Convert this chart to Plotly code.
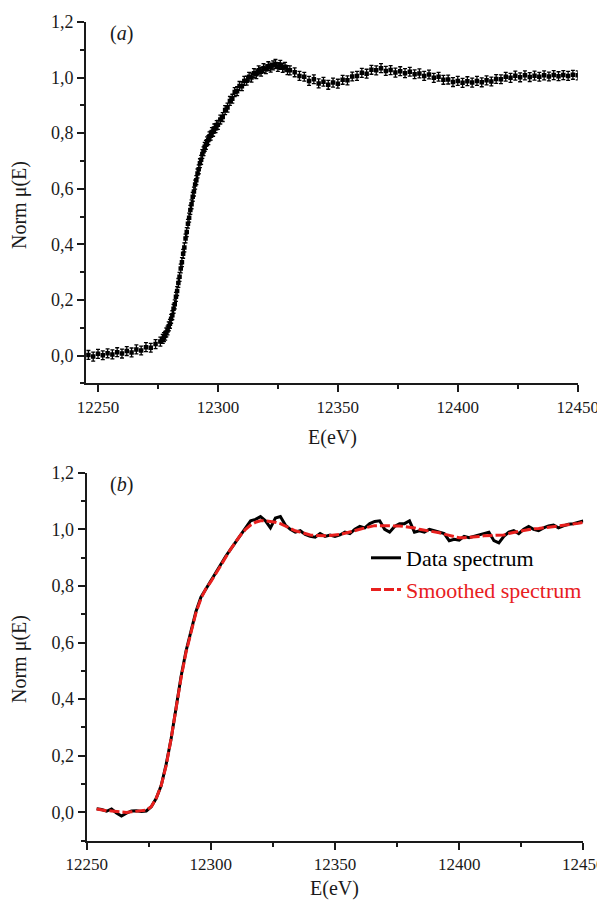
import plotly.graph_objects as go

# ---------------- data: panel (a) ----------------
E_A_PRE = list(range(12246, 12277, 2))                 # 16 points
E_A_EDGE = [12277 + 0.5 * i for i in range(46)]        # 46 points
E_A_POST = list(range(12300, 12331))                   # 31 points
E_A_TAIL = list(range(12332, 12451, 2))                # 60 points
E_A = E_A_PRE + E_A_EDGE + E_A_POST + E_A_TAIL

MU_A_PRE = [0.002, -0.004, 0.006, 0.001, 0.008, 0.004, 0.012, 0.007, 0.016, 0.011,
            0.022, 0.018, 0.030, 0.028, 0.041, 0.050]
MU_A_EDGE = [0.060, 0.066, 0.071, 0.083, 0.090, 0.105, 0.114, 0.132, 0.145, 0.168,
             0.184, 0.211, 0.232, 0.261, 0.283, 0.313, 0.336, 0.366, 0.389, 0.421,
             0.444, 0.474, 0.496, 0.524, 0.544, 0.571, 0.590, 0.615, 0.631, 0.655,
             0.670, 0.692, 0.704, 0.725, 0.735, 0.751, 0.758, 0.771, 0.775, 0.789,
             0.791, 0.804, 0.805, 0.817, 0.818, 0.829]
MU_A_POST = [0.830, 0.849, 0.858, 0.883, 0.892, 0.916, 0.924, 0.948, 0.951, 0.970,
             0.969, 0.988, 0.989, 1.003, 1.000, 1.016, 1.012, 1.026, 1.021, 1.034,
             1.030, 1.041, 1.036, 1.044, 1.049, 1.038, 1.046, 1.035, 1.039, 1.027,
             1.026]
MU_A_TAIL = [1.019, 1.006, 1.003, 0.988, 0.994, 0.979, 0.985, 0.974, 0.982, 0.978,
             0.992, 0.990, 1.004, 1.006, 1.017, 1.014, 1.028, 1.026, 1.034, 1.024,
             1.027, 1.018, 1.023, 1.016, 1.021, 1.012, 1.015, 1.006, 1.011, 0.999,
             1.003, 0.992, 0.993, 0.984, 0.988, 0.981, 0.987, 0.982, 0.988, 0.983,
             0.990, 0.986, 0.995, 0.994, 1.003, 0.999, 1.007, 1.001, 1.008, 1.002,
             1.007, 1.003, 1.008, 1.004, 1.009, 1.005, 1.009, 1.006, 1.010, 1.008]
MU_A = MU_A_PRE + MU_A_EDGE + MU_A_POST + MU_A_TAIL
ERR_A = 0.016

# ---------------- data: panel (b) ----------------
E_B = list(range(12254, 12451, 2))
MU_B = [
    0.013, 0.010, 0.004, 0.012, -0.002, -0.013, -0.003, 0.005, 0.006, 0.003,
    0.005, 0.020, 0.050, 0.095, 0.170, 0.260, 0.370, 0.480, 0.570, 0.645,
    0.710, 0.760, 0.790, 0.815, 0.845, 0.880, 0.905, 0.930, 0.955, 0.980,
    1.005, 1.030, 1.035, 1.045, 1.030, 1.005, 1.040, 1.045, 1.015, 1.000,
    0.990, 0.995, 0.982, 0.975, 0.972, 0.985, 0.975, 0.980, 0.975, 0.980,
    0.990, 0.985, 1.000, 1.010, 1.005, 1.020, 1.028, 1.030, 1.000, 0.990,
    1.010, 1.020, 1.020, 1.030, 0.990, 0.995, 0.990, 1.000, 0.995, 0.990,
    0.985, 0.960, 0.965, 0.962, 0.975, 0.970, 0.975, 0.980, 0.985, 0.990,
    0.960, 0.952, 0.975, 0.990, 0.995, 0.985, 1.000, 1.010, 1.000, 0.995,
    1.005, 1.012, 1.015, 1.005, 1.012, 1.018, 1.020, 1.025, 1.030,
]
MU_B_SMOOTH = [
    0.012, 0.008, 0.006, 0.005, 0.003, 0.000, 0.000, 0.002, 0.004, 0.005,
    0.008, 0.020, 0.050, 0.095, 0.165, 0.260, 0.370, 0.475, 0.565, 0.640,
    0.705, 0.755, 0.790, 0.815, 0.845, 0.875, 0.905, 0.930, 0.955, 0.980,
    1.000, 1.015, 1.025, 1.030, 1.030, 1.028, 1.025, 1.020, 1.012, 1.003,
    0.995, 0.990, 0.985, 0.980, 0.978, 0.977, 0.977, 0.978, 0.979, 0.982,
    0.986, 0.990, 0.995, 1.000, 1.005, 1.010, 1.013, 1.013, 1.012, 1.012,
    1.012, 1.012, 1.010, 1.008, 1.005, 1.000, 0.997, 0.995, 0.992, 0.988,
    0.983, 0.978, 0.973, 0.970, 0.970, 0.971, 0.973, 0.975, 0.977, 0.978,
    0.978, 0.978, 0.980, 0.985, 0.990, 0.993, 0.996, 1.000, 1.002, 1.003,
    1.005, 1.008, 1.010, 1.011, 1.013, 1.016, 1.018, 1.021, 1.025,
]

X_TICKS = [12250, 12300, 12350, 12400, 12450]
Y_TICKS = [0.0, 0.2, 0.4, 0.6, 0.8, 1.0, 1.2]

assert len(E_A) == len(MU_A), (len(E_A), len(MU_A))
assert len(E_B) == len(MU_B) == len(MU_B_SMOOTH), (len(E_B), len(MU_B), len(MU_B_SMOOTH))

FONT = "Liberation Serif"
INK = "#1a1a1a"
RED = "#e8201e"
OFF = 8                      # page body margin of the browser
W, H = 605 - OFF, 900 - OFF  # figure size that fits the window


def fx(px):
    return (px - OFF) / W


def fy(py):
    return 1 - (py - OFF) / H


fig = go.Figure()
fig.add_trace(go.Scatter(
    x=E_A, y=MU_A, mode="markers", xaxis="x", yaxis="y", showlegend=False,
    marker=dict(symbol="square", size=4.5, color="black"),
    error_y=dict(type="constant", value=ERR_A, thickness=1.3, width=2, color="black"),
))
fig.add_trace(go.Scatter(
    x=E_B, y=MU_B, mode="lines", xaxis="x2", yaxis="y2",
    name="Data spectrum", line=dict(color="black", width=3),
))
fig.add_trace(go.Scatter(
    x=E_B, y=MU_B_SMOOTH, mode="lines", xaxis="x2", yaxis="y2",
    name="<span style='color:%s'>Smoothed spectrum</span>" % RED,
    line=dict(color=RED, width=3, dash="10px,3px"),
))


def xax(domain, rng, anchor):
    return dict(
        domain=domain, range=rng, anchor=anchor, tickvals=X_TICKS, tickformat="d",
        ticks="outside", ticklen=7, tickwidth=2, tickcolor=INK,
        showline=True, linewidth=2, linecolor=INK, showgrid=False, zeroline=False,
        minor=dict(ticks="outside", ticklen=4, tickwidth=2, tickcolor=INK,
                   dtick=25, tick0=12250, showgrid=False),
        tickfont=dict(family=FONT, size=17, color=INK),
        ticklabeloverflow="allow",
        automargin=False, fixedrange=True,
    )


def yax(domain, anchor):
    return dict(
        domain=domain, range=[-0.1, 1.2], anchor=anchor, tickvals=Y_TICKS,
        tickformat=".1f",
        ticks="outside", ticklen=7, tickwidth=2, tickcolor=INK,
        showline=True, linewidth=2, linecolor=INK, showgrid=False, zeroline=False,
        minor=dict(ticks="outside", ticklen=4, tickwidth=2, tickcolor=INK,
                   dtick=0.1, tick0=0, showgrid=False),
        tickfont=dict(family=FONT, size=18, color=INK),
        ticklabeloverflow="allow",
        automargin=False, fixedrange=True,
    )


fig.update_layout(
    width=W, height=H,
    margin=dict(l=0, r=0, t=0, b=0, autoexpand=False),
    paper_bgcolor="white", plot_bgcolor="white",
    separators=",.",
    font=dict(family=FONT, size=18, color=INK),
    xaxis=xax([fx(86), fx(577.7)], [12245, 12450], "y"),
    yaxis=yax([fy(383.3), fy(22)], "x"),
    xaxis2=xax([fx(86.7), fx(583.3)], [12250, 12450], "y2"),
    yaxis2=yax([fy(840.7), fy(472.7)], "x2"),
    legend=dict(
        x=fx(366), y=fy(537), xanchor="left", yanchor="top",
        bgcolor="rgba(0,0,0,0)", font=dict(family=FONT, size=22, color="black"),
        tracegroupgap=0,
    ),
    showlegend=True,
)

annots = [
    dict(text="(<i>a</i>)", x=fx(108), y=fy(33), xanchor="left", yanchor="middle"),
    dict(text="(<i>b</i>)", x=fx(108), y=fy(484), xanchor="left", yanchor="middle"),
    dict(text="E(eV)", x=fx(332), y=fy(437), xanchor="center", yanchor="middle"),
    dict(text="E(eV)", x=fx(334), y=fy(888), xanchor="center", yanchor="middle"),
]
for a in annots:
    fig.add_annotation(text=a["text"], x=a["x"], y=a["y"], xref="paper", yref="paper",
                       xanchor=a["xanchor"], yanchor=a["yanchor"], showarrow=False,
                       font=dict(family=FONT, size=20, color=INK))
for yc in (205, 659):
    fig.add_annotation(text="Norm μ(E)", x=fx(19), y=fy(yc), xref="paper", yref="paper",
                       xanchor="center", yanchor="middle", textangle=-90, showarrow=False,
                       font=dict(family=FONT, size=20, color=INK))

fig.write_html("out.html")
